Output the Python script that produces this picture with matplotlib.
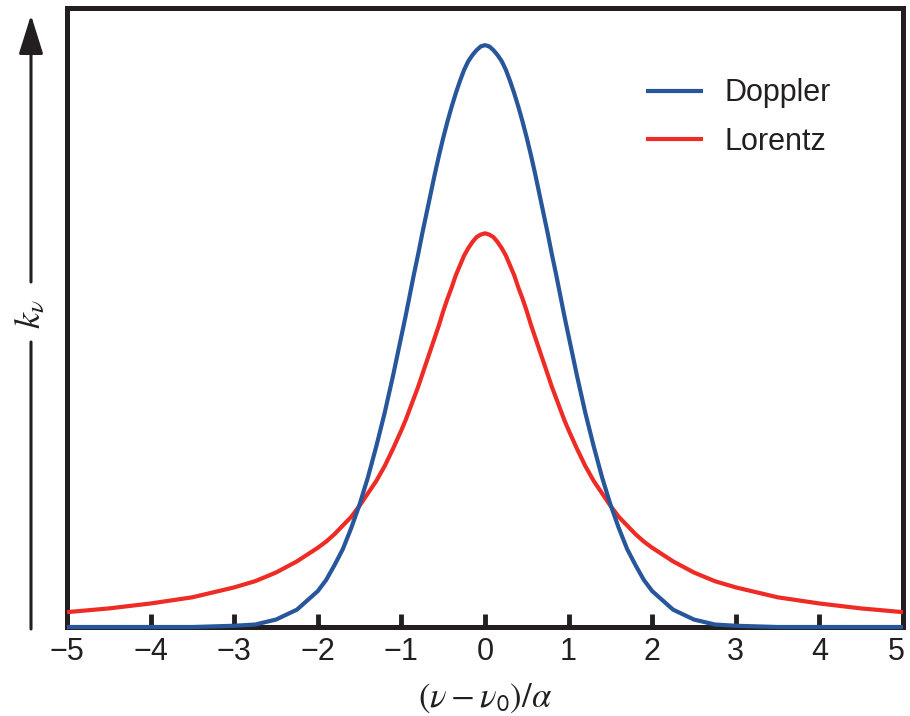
#!/usr/bin/env python3

import matplotlib
matplotlib.use("Agg")
import matplotlib.pyplot as plt
from matplotlib.transforms import ScaledTranslation

# values (y in profile units, axis runs 0..0.5)
x_vals = [-5.0, -4.5, -4.0, -3.5, -3.0, -2.75, -2.5, -2.25, -2.0,
          -1.9, -1.8, -1.7, -1.6, -1.5, -1.4, -1.3, -1.2, -1.1,
          -1.0, -0.95, -0.9, -0.85, -0.8, -0.75, -0.7, -0.65, -0.6, -0.55,
          -0.5, -0.45, -0.4, -0.35, -0.3, -0.25, -0.2, -0.15, -0.1, -0.05,
          0.0,
          0.05, 0.1, 0.15, 0.2, 0.25, 0.3, 0.35, 0.4, 0.45, 0.5,
          0.55, 0.6, 0.65, 0.7, 0.75, 0.8, 0.85, 0.9, 0.95, 1.0,
          1.1, 1.2, 1.3, 1.4, 1.5, 1.6, 1.7, 1.8, 1.9,
          2.0, 2.25, 2.5, 2.75, 3.0, 3.5, 4.0, 4.5, 5.0]
doppler = [0.000, 0.000, 0.000, 0.000, 0.001, 0.002, 0.006, 0.014, 0.029,
           0.038, 0.050, 0.063, 0.080, 0.099, 0.121, 0.146, 0.173, 0.203,
           0.235, 0.251, 0.268, 0.285, 0.301, 0.318, 0.334, 0.350, 0.366, 0.381,
           0.395, 0.408, 0.420, 0.431, 0.441, 0.450, 0.457, 0.462, 0.466, 0.469,
           0.470,
           0.469, 0.466, 0.462, 0.457, 0.450, 0.441, 0.431, 0.420, 0.408, 0.395,
           0.381, 0.366, 0.350, 0.334, 0.318, 0.301, 0.285, 0.268, 0.251, 0.235,
           0.203, 0.173, 0.146, 0.121, 0.099, 0.080, 0.063, 0.050, 0.038,
           0.029, 0.014, 0.006, 0.002, 0.001, 0.000, 0.000, 0.000, 0.000]
lorentz = [0.012, 0.015, 0.019, 0.024, 0.032, 0.037, 0.044, 0.053, 0.064,
           0.069, 0.075, 0.082, 0.089, 0.098, 0.108, 0.118, 0.130, 0.144,
           0.159, 0.167, 0.176, 0.185, 0.194, 0.204, 0.214, 0.224, 0.234, 0.244,
           0.255, 0.265, 0.274, 0.284, 0.292, 0.300, 0.306, 0.311, 0.315, 0.317,
           0.318,
           0.317, 0.315, 0.311, 0.306, 0.300, 0.292, 0.284, 0.274, 0.265, 0.255,
           0.244, 0.234, 0.224, 0.214, 0.204, 0.194, 0.185, 0.176, 0.167, 0.159,
           0.144, 0.130, 0.118, 0.108, 0.098, 0.089, 0.082, 0.075, 0.069,
           0.064, 0.053, 0.044, 0.037, 0.032, 0.024, 0.019, 0.015, 0.012]
x_ticks = [-5, -4, -3, -2, -1, 0, 1, 2, 3, 4, 5]

BLUE = "#27569b"
RED = "#ee2b24"
INK = "#231f20"

plt.rcParams["font.family"] = ["Liberation Sans", "DejaVu Sans"]
plt.rcParams["mathtext.fontset"] = "stix"

fig = plt.figure(figsize=(9.1, 7.16), dpi=100)
ax = fig.add_axes([67 / 910, 1 - 627 / 716, (903 - 67) / 910, (627 - 8) / 716])

ax.plot(x_vals, doppler, color=BLUE, lw=3.0, label="Doppler", zorder=4,
        clip_on=False, solid_joinstyle="round", solid_capstyle="butt")
ax.plot(x_vals, lorentz, color=RED, lw=3.0, label="Lorentz", zorder=3,
        clip_on=False, solid_joinstyle="round", solid_capstyle="butt")

ax.set_xlim(-5, 5)
ax.set_ylim(0, 0.5)
ax.set_xticks(x_ticks)
ax.set_yticks([])
ax.tick_params(axis="x", direction="in", length=9.5, width=3.5, color=INK,
               labelsize=22, labelcolor=INK, pad=7)
for sp in ax.spines.values():
    sp.set_linewidth(3.6)
    sp.set_color(INK)

# last label sits a touch left of its tick so it stays inside the figure
last = ax.get_xticklabels()[-1]
last.set_transform(last.get_transform() + ScaledTranslation(-5 / 72, 0, fig.dpi_scale_trans))

ax.set_xlabel(r"$(\nu - \nu_{\mathsf{0}})/\alpha$", fontsize=25, color=INK, labelpad=11)

leg = ax.legend(loc="upper right", bbox_to_anchor=(0.947, 0.931), frameon=False,
                fontsize=22, handlelength=1.85, handletextpad=0.72, labelspacing=0.62)
for t in leg.get_texts():
    t.set_color(INK)

# y "axis" arrow drawn outside the frame, broken around the label
ax.annotate("", xy=(31, 716 - 15), xytext=(31, 716 - 282), xycoords="figure pixels",
            textcoords="figure pixels",
            arrowprops=dict(arrowstyle="-|>,head_length=24,head_width=7.5",
                            mutation_scale=1, lw=2.2, color=INK,
                            shrinkA=0, shrinkB=0))
ax.annotate("", xy=(31, 716 - 342), xytext=(31, 716 - 629), xycoords="figure pixels",
            textcoords="figure pixels",
            arrowprops=dict(arrowstyle="-", lw=2.2, color=INK, shrinkA=0, shrinkB=0))
fig.text(31 / 910, 1 - 314 / 716, r"$k_\nu$", rotation=90, fontsize=26,
         color=INK, ha="center", va="center")

fig.savefig("out.png", dpi=100)
